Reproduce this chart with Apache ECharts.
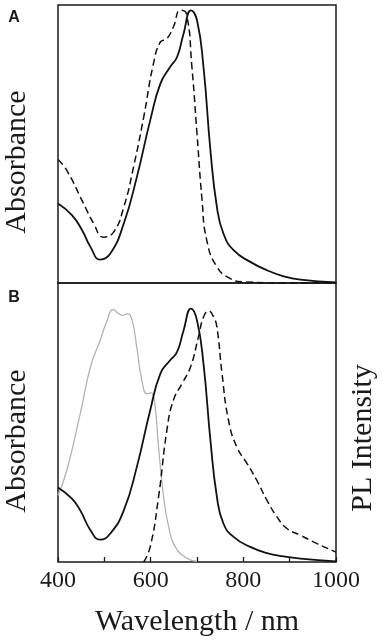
<!DOCTYPE html>
<html>
<head>
<meta charset="utf-8">
<script src="https://cdn.jsdelivr.net/npm/echarts@6/dist/echarts.min.js"></script>
<style>
  html, body { margin: 0; padding: 0; background: #fff; }
  #chart { width: 383px; height: 644px; }
</style>
</head>
<body>
<div id="chart"></div>
<script>
// x axis labels (nm)
const xLabels = [400, 600, 800, 1000];

// panel A - solid absorbance
const aSolidNm = [400, 430, 452, 470, 491, 513, 542, 570, 599, 621, 642, 657, 671, 687, 700, 714, 729, 743, 757, 779, 815, 851, 887, 923, 1000];
const aSolidVal = [28.6, 24.4, 19, 13, 8.4, 10.6, 21.4, 38, 58.5, 71.7, 77.7, 81.3, 89.7, 98.1, 94.5, 77.7, 47.7, 27.3, 17.8, 11.8, 7.6, 4.6, 2.4, 1.2, 0.2];

// panel A - dashed absorbance
const aDashNm = [400, 419, 455, 477, 498, 520, 542, 563, 585, 606, 621, 635, 649, 664, 677, 689, 700, 711, 721, 743, 772, 800, 900, 1000];
const aDashVal = [44.4, 40.5, 28.6, 21.4, 16.5, 18.3, 27.3, 41.7, 59.7, 78.9, 86.7, 87.9, 92.1, 98.1, 96.9, 77.7, 53.7, 29.7, 15.4, 5.8, 1.6, 0.4, 0, 0];

// panel B - solid absorbance
const bSolidNm = [400, 430, 448, 470, 491, 513, 542, 570, 599, 621, 642, 657, 671, 687, 700, 714, 729, 743, 757, 779, 815, 851, 887, 923, 1000];
const bSolidVal = [26.7, 22.7, 18.5, 11.4, 8, 10.2, 18.5, 34, 54.4, 67.5, 72.3, 75.3, 83, 90.8, 86.6, 71.1, 43.6, 23.3, 13.8, 9, 5.4, 3.2, 2, 1.2, 0.2];

// panel B - grey absorbance
const bGreyNm = [400, 419, 448, 470, 491, 506, 519, 531, 540, 550, 560, 570, 581, 592, 601, 608, 617, 628, 639, 653, 678, 700];
const bGreyVal = [23.9, 32.9, 53.2, 69.9, 79.5, 86.6, 90.5, 89, 88.4, 89, 86.6, 77, 65.1, 60.3, 60.6, 58, 41.2, 23.3, 12.5, 5.4, 1.4, 0.2];

// panel B - dashed PL
const bPlNm = [585, 599, 617, 635, 649, 668, 686, 703, 714, 725, 736, 743, 754, 768, 786, 808, 829, 851, 873, 894, 923, 959, 995, 1000];
const bPlVal = [0, 5.4, 23.3, 47.2, 58, 64, 69.9, 80.6, 87.8, 90, 87.8, 84.2, 67.5, 50.8, 41.2, 35.3, 29.3, 22.1, 16.1, 12, 9.6, 6.6, 3.9, 3.5];

const pairs = (xs, ys) => xs.map((x, i) => [x, ys[i]]);

const serif = 'Liberation Serif';
const ink = '#1a1a1a';

const chart = echarts.init(document.getElementById('chart'), null, { renderer: 'canvas' });

const lineSeries = (name, idx, data, style) => ({
  name,
  type: 'line',
  xAxisIndex: idx,
  yAxisIndex: idx,
  data,
  smooth: 0.5,
  showSymbol: false,
  silent: true,
  lineStyle: style
});

const solid = { color: '#111', width: 1.8 };
const dashed = { color: '#111', width: 1.5, type: [7, 4] };
const grey = { color: '#b3b3b3', width: 1.3 };

// rotated / free text
const label = (text, x, y, size, rot, weight, family) => ({
  type: 'text', x, y, rotation: rot || 0,
  style: {
    text, fill: ink, fontSize: size, fontWeight: weight || 'normal', fontFamily: family || serif,
    textAlign: 'center', textVerticalAlign: 'middle'
  }
});

const option = {
  backgroundColor: '#fff',
  animation: false,
  grid: [
    { left: 58, top: 5, width: 278, height: 278, show: true, borderColor: ink, borderWidth: 1.5, backgroundColor: 'transparent' },
    { left: 58, top: 283, width: 278, height: 279, show: true, borderColor: ink, borderWidth: 1.5, backgroundColor: 'transparent' }
  ],
  xAxis: [
    { gridIndex: 0, type: 'value', min: 400, max: 1000, show: false },
    {
      gridIndex: 1, type: 'value', min: 400, max: 1000, interval: 100,
      axisLine: { show: false },
      splitLine: { show: false },
      axisTick: { show: true, inside: true, length: 5, lineStyle: { color: ink, width: 1.3 } },
      axisLabel: {
        showMinLabel: true, showMaxLabel: true,
        margin: 7,
        fontFamily: serif, fontSize: 24, color: ink,
        formatter: v => (xLabels.includes(v) ? String(v) : '')
      }
    }
  ],
  yAxis: [
    { gridIndex: 0, type: 'value', min: 0, max: 100, show: false },
    { gridIndex: 1, type: 'value', min: 0, max: 100, show: false }
  ],
  series: [
    lineSeries('A solid', 0, pairs(aSolidNm, aSolidVal), solid),
    lineSeries('A dashed', 0, pairs(aDashNm, aDashVal), dashed),
    lineSeries('B grey', 1, pairs(bGreyNm, bGreyVal), grey),
    lineSeries('B solid', 1, pairs(bSolidNm, bSolidVal), solid),
    lineSeries('B PL', 1, pairs(bPlNm, bPlVal), dashed)
  ],
  graphic: [
    label('A', 14, 18, 16, 0, 'bold', 'Liberation Sans'),
    label('B', 14, 298, 16, 0, 'bold', 'Liberation Sans'),
    label('Absorbance', 17, 162, 30, Math.PI / 2),
    label('Absorbance', 17, 441, 30, Math.PI / 2),
    label('PL Intensity', 363, 438, 30, Math.PI / 2),
    label('Wavelength / nm', 197, 622, 30)
  ]
};

chart.setOption(option);
</script>
</body>
</html>
